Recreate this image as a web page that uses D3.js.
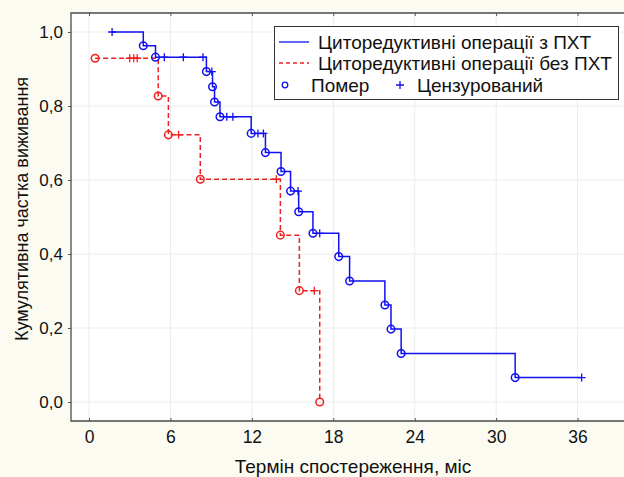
<!DOCTYPE html>
<html><head><meta charset="utf-8">
<script src="https://cdn.jsdelivr.net/npm/d3@7"></script>
<style>
html,body{margin:0;padding:0;background:#fcfbf2;}
svg{display:block;}
text{font-family:"Liberation Sans",Arial,sans-serif;fill:#111;}
</style></head>
<body>
<script>
// Series: with chemo (ПХТ) — deaths (time, survival after)
const blueStart = [1.7, 1.0];
const blueDeathT = [4.0, 4.9, 8.65, 9.1, 9.25, 9.65, 11.95, 13.0, 14.15, 14.85, 15.45, 16.5, 18.4, 19.2, 21.8, 22.25, 23.0, 31.4];
const blueDeathS = [0.963, 0.932, 0.893, 0.852, 0.811, 0.771, 0.726, 0.674, 0.623, 0.570, 0.514, 0.456, 0.393, 0.327, 0.262, 0.197, 0.131, 0.066];
const blueCensT = [1.7, 5.55, 6.95, 8.4, 9.05, 10.15, 10.6, 12.45, 12.85, 15.4, 17.0, 36.3];
const blueCensS = [1.0, 0.932, 0.932, 0.932, 0.893, 0.771, 0.771, 0.726, 0.726, 0.570, 0.456, 0.066];
// Series: without chemo
const redDeathT = [0.45, 5.1, 5.85, 8.2, 14.1, 15.5, 17.0];
const redDeathS = [0.929, 0.827, 0.722, 0.602, 0.451, 0.301, 0.0];
const redCensT = [3.0, 3.3, 3.55, 6.6, 13.8, 16.6];
const redCensS = [0.929, 0.929, 0.929, 0.722, 0.602, 0.301];

const xTicks = [0, 6, 12, 18, 24, 30, 36];
const yTicks = [0, 0.2, 0.4, 0.6, 0.8, 1.0];
const seriesNames = ["Циторедуктивні операції з ПХТ", "Циторедуктивні операції без ПХТ"];
const markerNames = ["Помер", "Цензурований"];
const xTitle = "Термін спостереження, міс";
const yTitle = "Кумулятивна частка виживання";

const W = 624, H = 477;
const L = 71, T = 13, B = 421, R = 640;
const BLUE = "#1010f0", RED = "#f02020";

const svg = d3.select("body").append("svg").attr("width", W).attr("height", H);
const x = d3.scaleLinear().domain([0, 36]).range([89, 577.6]);
const y = d3.scaleLinear().domain([0, 1]).range([402, 32]);

// plot background
svg.append("rect").attr("x", L).attr("y", T).attr("width", R - L).attr("height", B - T).attr("fill", "#fff");

// grid
const g = svg.append("g");
g.selectAll(".vg").data(xTicks).join("line")
  .attr("x1", d => x(d)).attr("x2", d => x(d)).attr("y1", T).attr("y2", B)
  .attr("stroke", "#ececec").attr("stroke-width", 1);
g.selectAll(".hg").data(yTicks).join("line")
  .attr("y1", d => y(d)).attr("y2", d => y(d)).attr("x1", L).attr("x2", R)
  .attr("stroke", "#ececec").attr("stroke-width", 1);

// axes
const fmt = d => d.toFixed(1).replace(".", ",");
const yAx = svg.append("g").attr("transform", `translate(${L},0)`)
  .call(d3.axisLeft(y).tickValues(yTicks).tickFormat(fmt).tickSize(3).tickPadding(5));
yAx.select(".domain").remove();
yAx.selectAll("text").attr("font-size", 17).attr("font-family", "Liberation Sans, Arial");
yAx.selectAll("line").attr("stroke", "#555");

const xAx = svg.append("g").attr("transform", `translate(0,${B})`)
  .call(d3.axisBottom(x).tickValues(xTicks).tickFormat(d => d).tickSize(-3).tickPadding(10));
xAx.select(".domain").remove();
xAx.selectAll("text").attr("font-size", 17.5).attr("font-family", "Liberation Sans, Arial");
xAx.selectAll("line").attr("stroke", "#555");

const xTop = svg.append("g").attr("transform", `translate(0,${T})`)
  .call(d3.axisTop(x).tickValues(xTicks).tickFormat("").tickSize(-3));
xTop.select(".domain").remove();
xTop.selectAll("line").attr("stroke", "#555");

// frame
svg.append("path").attr("d", `M${R},${T}H${L}V${B}H${R}`).attr("fill", "none")
  .attr("stroke", "#4a4a4a").attr("stroke-width", 1.3);

// KM lines
const line = d3.line().x(d => x(d[0])).y(d => y(d[1])).curve(d3.curveStepAfter);
const bluePts = [blueStart].concat(blueDeathT.map((t, i) => [t, blueDeathS[i]]));
bluePts.push([blueCensT[blueCensT.length - 1], blueCensS[blueCensS.length - 1]]);
const redPts = redDeathT.map((t, i) => [t, redDeathS[i]]);

svg.append("path").attr("d", line(redPts)).attr("fill", "none")
  .attr("stroke", RED).attr("stroke-width", 1.5).attr("stroke-dasharray", "5,3");
svg.append("path").attr("d", line(bluePts)).attr("fill", "none")
  .attr("stroke", BLUE).attr("stroke-width", 1.5);

function circles(ts, ss, col) {
  svg.append("g").selectAll("circle").data(ts).join("circle")
    .attr("cx", d => x(d)).attr("cy", (d, i) => y(ss[i])).attr("r", 3.8)
    .attr("fill", "none").attr("stroke", col).attr("stroke-width", 1.5);
}
function censors(ts, ss, col) {
  svg.append("g").selectAll("path").data(ts).join("path")
    .attr("d", (d, i) => `M${x(d) - 4},${y(ss[i])}h8M${x(d)},${y(ss[i]) - 4}v8`)
    .attr("fill", "none").attr("stroke", col).attr("stroke-width", 1.3);
}
circles(redDeathT, redDeathS, RED);
censors(redCensT, redCensS, RED);
circles(blueDeathT, blueDeathS, BLUE);
censors(blueCensT, blueCensS, BLUE);

// legend
const lg = svg.append("g");
lg.append("rect").attr("x", 274.5).attr("y", 26.5).attr("width", 344).attr("height", 73)
  .attr("fill", "#fff").attr("stroke", "#333").attr("stroke-width", 1);
lg.append("line").attr("x1", 279).attr("x2", 309).attr("y1", 42).attr("y2", 42)
  .attr("stroke", BLUE).attr("stroke-width", 1.3);
lg.append("line").attr("x1", 279).attr("x2", 309).attr("y1", 63).attr("y2", 63)
  .attr("stroke", RED).attr("stroke-width", 1.3).attr("stroke-dasharray", "4,3");
lg.selectAll(".lt").data(seriesNames).join("text")
  .attr("x", 318).attr("y", (d, i) => 48.5 + i * 21.5).attr("font-size", 19).text(d => d);
lg.append("circle").attr("cx", 285).attr("cy", 85).attr("r", 2.8)
  .attr("fill", "none").attr("stroke", BLUE).attr("stroke-width", 1.3);
lg.append("path").attr("d", "M396,85h8M400,81v8").attr("stroke", BLUE).attr("stroke-width", 1.3);
lg.append("text").attr("x", 311).attr("y", 91.5).attr("font-size", 19).text(markerNames[0]);
lg.append("text").attr("x", 417).attr("y", 91.5).attr("font-size", 19).text(markerNames[1]);

// titles
svg.append("text").attr("x", 353).attr("y", 473).attr("text-anchor", "middle")
  .attr("font-size", 19).text(xTitle);
svg.append("text").attr("transform", "translate(28,209) rotate(-90)").attr("text-anchor", "middle")
  .attr("font-size", 18).text(yTitle);
</script>
</body></html>
